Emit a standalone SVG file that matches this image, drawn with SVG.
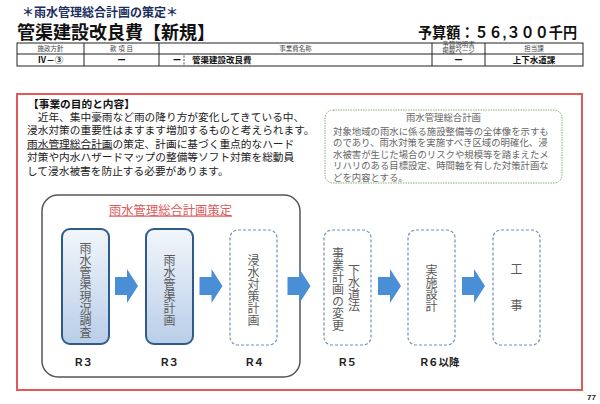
<svg xmlns="http://www.w3.org/2000/svg" width="600" height="404" viewBox="0 0 600 404">
<style>
text{font-family:"Liberation Sans","Noto Sans CJK JP",sans-serif;}
.b{font-weight:bold;}
.tbl{fill:none;stroke:#222;stroke-width:1;}
.th{font-size:6.5px;fill:#444;text-anchor:middle;}
.td{font-size:8.5px;fill:#111;font-weight:bold;}
.body{font-size:10.7px;fill:#222;}
.note{font-size:9.4px;fill:#666;}
.vt{font-family:"Noto Sans CJK JP",sans-serif;font-size:12px;fill:#5a5a5a;writing-mode:vertical-rl;text-anchor:middle;}
.solid{stroke:#2e5b8c;stroke-width:2;fill:url(#gb);}
.dash{stroke:#6f8fb5;stroke-width:1.2;stroke-dasharray:3 2;fill:#fff;}
.rl{font-size:10.5px;font-weight:bold;fill:#222;text-anchor:middle;}
.arrow{fill:#4a8ed6;}
</style>
<defs>
<linearGradient id="gb" x1="0" y1="0" x2="0" y2="1">
<stop offset="0" stop-color="#f2f6fb"/>
<stop offset="1" stop-color="#b9cee8"/>
</linearGradient>
<path id="arr" d="M0,8 H12 V0 L23,17 L12,34 V26 H0 Z"/>
</defs>
<rect width="600" height="404" fill="#fff"/>

<g id="header">
<text x="22" y="16.5" class="b" font-size="12" fill="#1c2f5e">＊雨水管理総合計画の策定＊</text>
<text x="17" y="38.5" class="b" font-size="18" fill="#111">管渠建設改良費【新規】</text>
<text x="418" y="37.5" class="b" font-size="15" fill="#111" textLength="159" lengthAdjust="spacingAndGlyphs">予算額：５６,３００千円</text>
</g>

<g id="table">
<rect class="tbl" x="17" y="43" width="566" height="23"/>
<line class="tbl" x1="17" y1="54" x2="583" y2="54"/>
<line class="tbl" x1="84" y1="43" x2="84" y2="66"/>
<line class="tbl" x1="159" y1="43" x2="159" y2="66"/>
<line class="tbl" x1="432" y1="43" x2="432" y2="66"/>
<line class="tbl" x1="485" y1="43" x2="485" y2="66"/>
<line x1="184" y1="55.5" x2="184" y2="65" stroke="#222" stroke-width="0.8" stroke-dasharray="2 1.5"/>
<text class="th" x="50.5" y="51">施政方針</text>
<text class="th" x="121.5" y="51">款 項 目</text>
<text class="th" x="295.5" y="51">事業費名称</text>
<text class="th" font-size="3.6"><tspan x="458.5" y="47.4">予算説明書</tspan><tspan x="458.5" y="53">掲載ページ</tspan></text>
<text class="th" x="534" y="51">担当課</text>
<text class="td" x="50.5" y="63" text-anchor="middle">Ⅳ－③</text>
<text class="td" x="121.5" y="63" text-anchor="middle">ー</text>
<text class="td" x="177" y="63" text-anchor="middle">ー</text>
<text class="td" x="192" y="63">管渠建設改良費</text>
<text class="td" x="458.5" y="63" text-anchor="middle">ー</text>
<text class="td" x="534" y="63" text-anchor="middle">上下水道課</text>
</g>

<g id="frame">
<rect x="17" y="94" width="565" height="296" fill="none" stroke="#e05a5a" stroke-width="2"/>
<text x="587" y="400" class="b" font-size="8" fill="#222">77</text>
</g>

<g id="purpose">
<text x="28" y="108" class="b" font-size="10.7" fill="#111">【事業の目的と内容】</text>
<text class="body"><tspan x="27" y="120.5">　近年、集中豪雨など雨の降り方が変化してきている中、</tspan><tspan x="27" y="134">浸水対策の重要性はますます増加するものと考えられます。</tspan><tspan x="27" y="147.5"><tspan text-decoration="underline">雨水管理総合計画</tspan>の策定、計画に基づく重点的なハード</tspan><tspan x="27" y="161">対策や内水ハザードマップの整備等ソフト対策を総動員</tspan><tspan x="27" y="174.5">して浸水被害を防止する必要があります。</tspan></text>
</g>

<g id="note">
<rect x="325" y="110" width="237" height="73" rx="8" fill="#fff" stroke="#86b07a" stroke-width="1" stroke-dasharray="1.5 1"/>
<text class="note"><tspan x="443.5" y="120.5" text-anchor="middle">雨水管理総合計画</tspan><tspan x="333" y="134.5">対象地域の雨水に係る施設整備等の全体像を示すも</tspan><tspan x="333" y="146">のであり、雨水対策を実施すべき区域の明確化、浸</tspan><tspan x="333" y="157.5">水被害が生じた場合のリスクや規模等を踏まえたメ</tspan><tspan x="333" y="169">リハリのある目標設定、時間軸を有した対策計画な</tspan><tspan x="333" y="180.5">どを内容とする。</tspan></text>
</g>

<g id="plan-group">
<rect x="42" y="195" width="258" height="182" rx="16" fill="#fff" stroke="#555" stroke-width="1.5"/>
<text x="170.5" y="214.5" font-size="12.3" fill="#e05a5a" text-anchor="middle" text-decoration="underline">雨水管理総合計画策定</text>
</g>

<g id="node-survey">
<rect class="solid" x="62" y="229" width="47" height="115" rx="8"/>
<text class="vt" x="85.5" y="290">雨水管渠現況調査</text>
<text class="rl" x="84" y="366">R３</text>
</g>

<g id="node-pipeplan">
<rect class="solid" x="146" y="229" width="47" height="115" rx="8"/>
<text class="vt" x="169.5" y="290">雨水管渠計画</text>
<text class="rl" x="170" y="366">R３</text>
</g>

<g id="node-floodplan">
<rect class="dash" x="230" y="230" width="47" height="115" rx="8"/>
<text class="vt" x="253.5" y="290">浸水対策計画</text>
<text class="rl" x="255" y="366">R４</text>
</g>

<g id="node-change">
<rect class="dash" x="324" y="230" width="47" height="115" rx="8"/>
<text class="vt" x="338" y="289.5">事業計画の変更</text>
<text class="vt" x="354" y="288.5">下水道法</text>
<text class="rl" x="348" y="366">R５</text>
</g>

<g id="node-design">
<rect class="dash" x="408" y="230" width="47" height="115" rx="8"/>
<text class="vt" x="431.5" y="288.5">実施設計</text>
<text class="rl" x="440" y="366">R６以降</text>
</g>

<g id="node-work">
<rect class="dash" x="493" y="230" width="47" height="115" rx="8"/>
<text class="vt" x="516.5" y="290" letter-spacing="6">工　事</text>
</g>

<g id="connectors">
<use href="#arr" class="arrow" x="115" y="269"/>
<use href="#arr" class="arrow" x="199.5" y="269"/>
<use href="#arr" class="arrow" x="287.5" y="269"/>
<use href="#arr" class="arrow" x="378" y="269"/>
<use href="#arr" class="arrow" x="462" y="269"/>
</g>
</svg>
